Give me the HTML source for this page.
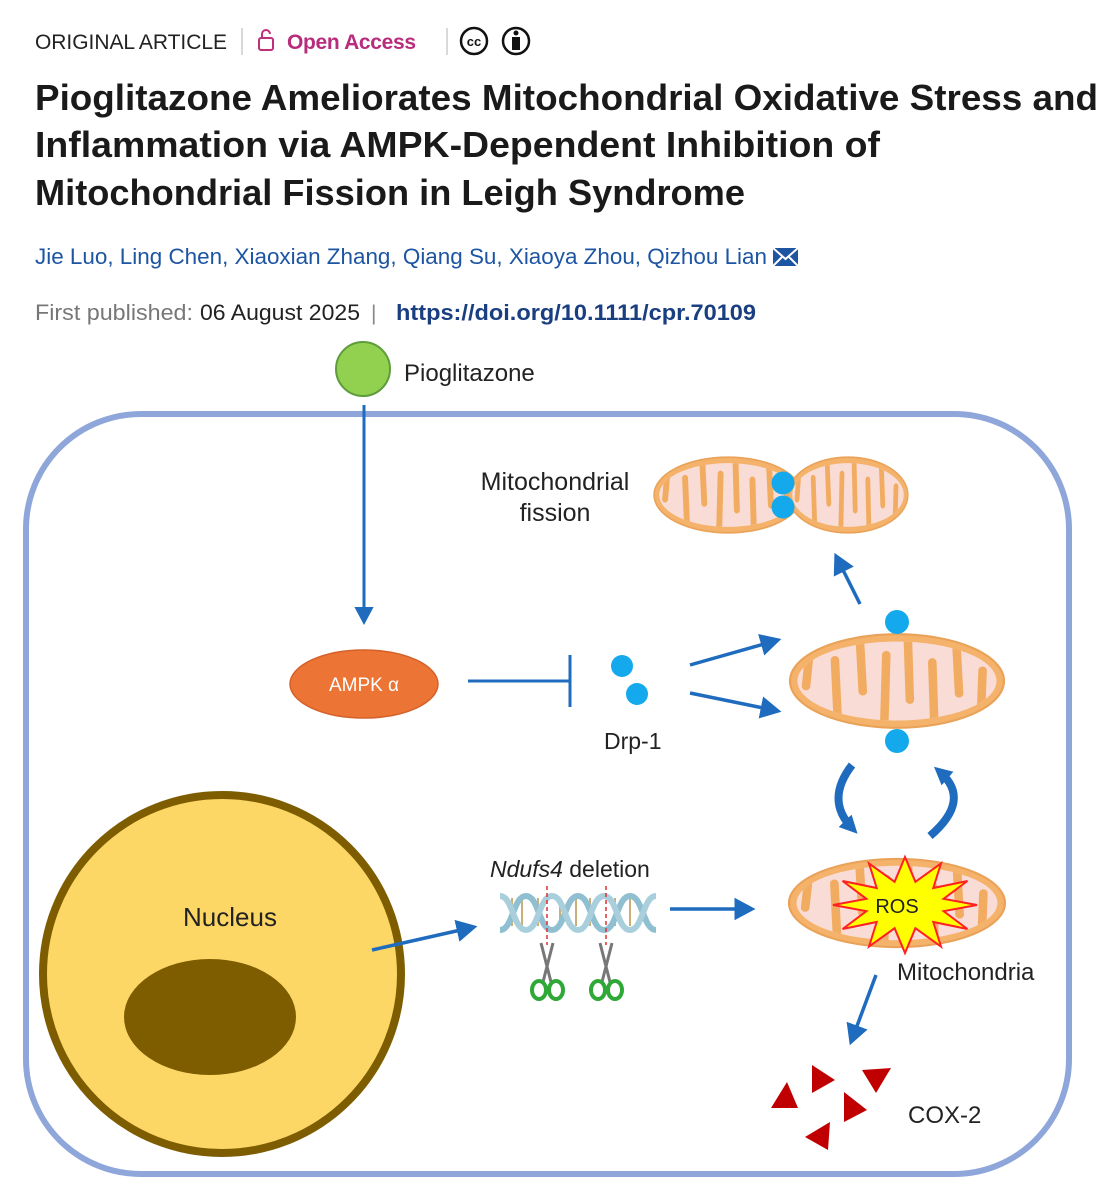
<!DOCTYPE html>
<html><head><meta charset="utf-8"><style>html,body{margin:0;padding:0;background:#fff}svg{display:block}</style></head>
<body>
<svg width="1113" height="1200" viewBox="0 0 1113 1200" xmlns="http://www.w3.org/2000/svg" font-family="Liberation Sans, sans-serif">
<defs>
<marker id="ah" markerWidth="8" markerHeight="8" refX="5" refY="4" orient="auto" markerUnits="strokeWidth"><path d="M0,0.8 L6,4 L0,7.2 Z" fill="#1f6cbf"/></marker>
<marker id="ab" markerWidth="24" markerHeight="24" refX="10" refY="12" orient="auto" markerUnits="userSpaceOnUse"><path d="M0,3 L18,12 L0,21 Z" fill="#1f6cbf"/></marker>
<clipPath id="mc"><ellipse cx="0" cy="0" rx="93" ry="38"/></clipPath>
<g id="mito">
<ellipse cx="0" cy="0" rx="100" ry="45" fill="#f4b26a" stroke="#e9a258" stroke-width="2"/>
<ellipse cx="0" cy="0" rx="93" ry="38" fill="#f9dcd6"/>
<g clip-path="url(#mc)" stroke="#f2ac62" stroke-width="8" stroke-linecap="round" fill="none">
<path d="M-80,-45 L-85,5 M-55,45 L-58,-20 M-35,-45 L-32,10 M-12,45 L-10,-25 M10,-45 L12,18 M35,45 L33,-18 M55,-45 L58,12 M78,45 L80,-10"/>
</g>
</g>
</defs>

<!-- header -->
<text x="35" y="49" font-size="21" fill="#222" textLength="192">ORIGINAL ARTICLE</text>
<line x1="242" y1="28" x2="242" y2="55" stroke="#ccc" stroke-width="1.5"/>
<rect x="259" y="38" width="14" height="12" rx="2" fill="none" stroke="#c0307a" stroke-width="2"/>
<path d="M262,38 v-4 a4,4 0 0 1 8,0" fill="none" stroke="#c0307a" stroke-width="2"/>
<text x="287" y="49" font-size="21" font-weight="bold" fill="#b82c7c" textLength="129">Open Access</text>
<line x1="447" y1="28" x2="447" y2="55" stroke="#ccc" stroke-width="1.5"/>
<circle cx="474" cy="41" r="13" fill="none" stroke="#111" stroke-width="2.5"/>
<text x="474" y="46" font-size="13" font-weight="bold" text-anchor="middle" fill="#111">cc</text>
<circle cx="516" cy="41" r="13" fill="none" stroke="#111" stroke-width="2.5"/>
<circle cx="516" cy="33" r="2.5" fill="#111"/>
<rect x="512" y="37" width="8" height="13" fill="#111"/>

<text font-size="36" font-weight="bold" fill="#1a1a1a" lengthAdjust="spacingAndGlyphs">
<tspan x="35" y="110" textLength="1063" lengthAdjust="spacingAndGlyphs">Pioglitazone Ameliorates Mitochondrial Oxidative Stress and</tspan>
<tspan x="35" y="157" textLength="845" lengthAdjust="spacingAndGlyphs">Inflammation via AMPK-Dependent Inhibition of</tspan>
<tspan x="35" y="205" textLength="710" lengthAdjust="spacingAndGlyphs">Mitochondrial Fission in Leigh Syndrome</tspan>
</text>
<text x="35" y="264" font-size="22" fill="#1d55a3" textLength="732" lengthAdjust="spacingAndGlyphs">Jie Luo, Ling Chen, Xiaoxian Zhang, Qiang Su, Xiaoya Zhou, Qizhou Lian</text>
<rect x="773" y="248" width="25" height="18" fill="#1d55a3"/>
<path d="M773,248 L785.5,259 L798,248 M773,266 L783,256 M798,266 L788,256" stroke="#fff" stroke-width="2" fill="none"/>
<text x="35" y="320" font-size="22" fill="#777" textLength="158" lengthAdjust="spacingAndGlyphs">First published:</text>
<text x="200" y="320" font-size="22" fill="#222" textLength="160" lengthAdjust="spacingAndGlyphs">06 August 2025</text>
<text x="371" y="320" font-size="21" fill="#888">|</text>
<text x="396" y="320" font-size="22" font-weight="bold" fill="#1a3f80" textLength="360" lengthAdjust="spacingAndGlyphs">https://doi.org/10.1111/cpr.70109</text>

<!-- cell -->
<rect x="26" y="414" width="1043" height="760" rx="115" fill="none" stroke="#8ea6da" stroke-width="6"/>

<!-- pioglitazone -->
<circle cx="363" cy="369" r="27" fill="#92d050" stroke="#5e9c3c" stroke-width="2"/>
<text x="404" y="381" font-size="24" fill="#222">Pioglitazone</text>
<line x1="364" y1="405" x2="364" y2="622" stroke="#1f6cbf" stroke-width="3" marker-end="url(#ah)"/>

<!-- AMPK -->
<ellipse cx="364" cy="684" rx="74" ry="34" fill="#ec7434" stroke="#d5612a" stroke-width="1.5"/>
<text x="364" y="691" font-size="19" fill="#fff" text-anchor="middle">AMPK α</text>
<line x1="468" y1="681" x2="570" y2="681" stroke="#1f6cbf" stroke-width="3"/>
<line x1="570" y1="655" x2="570" y2="707" stroke="#1f6cbf" stroke-width="3"/>

<!-- Drp-1 -->
<circle cx="622" cy="666" r="11" fill="#13a9ec"/>
<circle cx="637" cy="694" r="11" fill="#13a9ec"/>
<text x="604" y="749" font-size="23" fill="#222">Drp-1</text>
<line x1="690" y1="665" x2="778" y2="640" stroke="#1f6cbf" stroke-width="3.5" marker-end="url(#ah)"/>
<line x1="690" y1="693" x2="778" y2="711" stroke="#1f6cbf" stroke-width="3.5" marker-end="url(#ah)"/>

<!-- fission -->
<text font-size="25" fill="#222" text-anchor="middle"><tspan x="555" y="490">Mitochondrial</tspan><tspan x="555" y="521">fission</tspan></text>
<use href="#mito" transform="translate(728,495) scale(0.74,0.84)"/>
<use href="#mito" transform="translate(848,495) scale(0.6,0.84)"/>
<circle cx="783" cy="483" r="11.5" fill="#13a9ec"/>
<circle cx="783" cy="507" r="11.5" fill="#13a9ec"/>
<line x1="860" y1="604" x2="836" y2="556" stroke="#1f6cbf" stroke-width="3.5" marker-end="url(#ah)"/>

<!-- middle mito -->
<use href="#mito" transform="translate(897,681) scale(1.07,1.04)"/>
<circle cx="897" cy="622" r="12" fill="#13a9ec"/>
<circle cx="897" cy="741" r="12" fill="#13a9ec"/>

<!-- cycle arrows -->
<path d="M852,765 Q825,800 852,828" fill="none" stroke="#1f6cbf" stroke-width="8" marker-end="url(#ab)"/>
<path d="M930,836 Q972,800 940,772" fill="none" stroke="#1f6cbf" stroke-width="8" marker-end="url(#ab)"/>

<!-- nucleus -->
<circle cx="222" cy="974" r="179" fill="#fdd766" stroke="#7d5d00" stroke-width="8"/>
<ellipse cx="210" cy="1017" rx="86" ry="58" fill="#7d5d00"/>
<text x="230" y="926" font-size="26" fill="#222" text-anchor="middle">Nucleus</text>
<line x1="372" y1="950" x2="474" y2="927" stroke="#1f6cbf" stroke-width="3.5" marker-end="url(#ah)"/>

<!-- DNA -->
<text x="490" y="877" font-size="23" fill="#222"><tspan font-style="italic">Ndufs4</tspan> deletion</text>
<g stroke="#c9b07a" stroke-width="2">
<path d="M512,898 v28 M522,898 v28 M538,898 v28 M560,898 v28 M576,898 v28 M590,898 v28 M615,898 v28 M630,898 v28"/>
</g>
<path d="M500,930 C513,930 513,896 526,896 S539,930 552,930 S565,896 578,896 S591,930 604,930 S617,896 630,896 S643,930 656,930" fill="none" stroke="#8fbfd0" stroke-width="6"/>
<path d="M500,896 C513,896 513,930 526,930 S539,896 552,896 S565,930 578,930 S591,896 604,896 S617,930 630,930 S643,896 656,896" fill="none" stroke="#a9cfdc" stroke-width="6"/>
<line x1="547" y1="886" x2="547" y2="945" stroke="#e03030" stroke-width="1.5" stroke-dasharray="4,3"/>
<line x1="606" y1="886" x2="606" y2="945" stroke="#e03030" stroke-width="1.5" stroke-dasharray="4,3"/>
<g id="sc">
<path d="M541,943 L551,982 M553,943 L543,982" stroke="#777" stroke-width="3"/>
<ellipse cx="539" cy="990" rx="7" ry="9" fill="none" stroke="#2ea836" stroke-width="4"/>
<ellipse cx="556" cy="990" rx="7" ry="9" fill="none" stroke="#2ea836" stroke-width="4"/>
</g>
<use href="#sc" transform="translate(59,0)"/>
<line x1="670" y1="909" x2="752" y2="909" stroke="#1f6cbf" stroke-width="3.5" marker-end="url(#ah)"/>

<!-- ROS mito -->
<use href="#mito" transform="translate(897,903) scale(1.08,0.98)"/>
<polygon points="977,905 943.6,911.2 967.4,929 933.3,922 941,946.6 915.4,928.2 905,953 894.6,928.2 869,946.6 876.7,922 842.6,929 866.4,911.2 833,905 866.4,898.8 842.6,881 876.7,888 869,863.4 894.6,881.8 905,857 915.4,881.8 941,863.4 933.3,888 967.4,881 943.6,898.8" fill="#ffff00" stroke="#ff2020" stroke-width="2"/>
<text x="897" y="913" font-size="20" fill="#222" text-anchor="middle">ROS</text>
<text x="897" y="980" font-size="24" fill="#222">Mitochondria</text>
<line x1="876" y1="975" x2="851" y2="1042" stroke="#1f6cbf" stroke-width="3.5" marker-end="url(#ah)"/>

<!-- COX-2 -->
<g fill="#c00000">
<polygon points="771,1108 798,1108 787,1082"/>
<polygon points="812,1065 835,1080 812,1093"/>
<polygon points="862,1070 891,1068 876,1093"/>
<polygon points="844,1092 867,1110 844,1122"/>
<polygon points="830,1122 828,1150 805,1137"/>
</g>
<text x="908" y="1123" font-size="24" fill="#222">COX-2</text>
</svg>
</body></html>
